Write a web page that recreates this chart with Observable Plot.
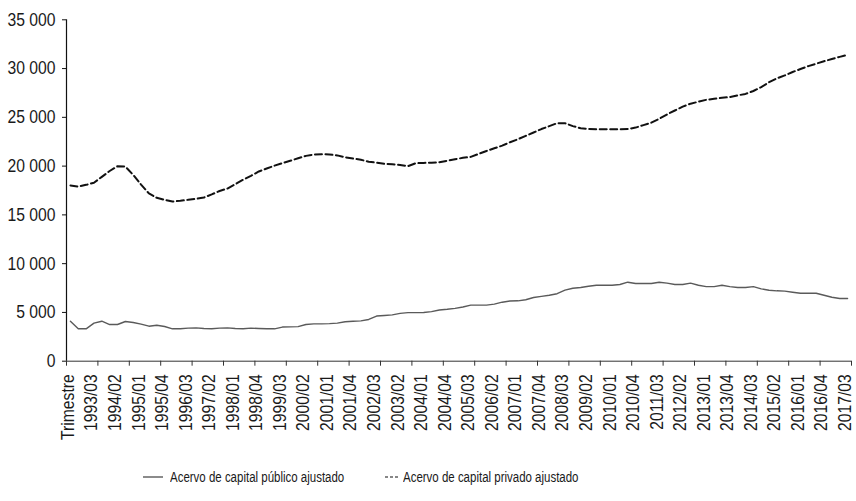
<!DOCTYPE html>
<html>
<head>
<meta charset="utf-8">
<script src="https://cdn.jsdelivr.net/npm/d3@7"></script>
<script src="https://cdn.jsdelivr.net/npm/@observablehq/plot@0.6"></script>
<style>
  html, body { margin: 0; padding: 0; background: #fff; }
  body { width: 856px; height: 501px; overflow: hidden;
         font-family: "Liberation Sans", Arial, sans-serif; }
  #legend { position: relative; height: 46px; font-size: 14px; color: #1a1a1a; }
  #legend .item { position: absolute; top: 14px; height: 16px; white-space: nowrap; }
  #legend svg { position: absolute; left: 0; top: 5px; }
  #legend span { position: absolute; top: 0; line-height: 16px; transform: scaleX(0.82); transform-origin: 0 50%; }
</style>
</head>
<body>
<div id="chart"></div>
<div id="legend"></div>
<script>
// Categories: first row "Trimestre", then quarters 1993/01 .. 2017/03
const categories = ["Trimestre"];
for (let y = 1993; y <= 2017; y++) {
  for (let q = 1; q <= 4; q++) {
    if (y === 2017 && q > 3) break;
    categories.push(y + "/0" + q);
  }
}

// Tick labels shown on the axis (every third category)
const tickLabels = ["Trimestre","1993/03","1994/02","1995/01","1995/04","1996/03","1997/02","1998/01","1998/04",
  "1999/03","2000/02","2001/01","2001/04","2002/03","2003/02","2004/01","2004/04","2005/03","2006/02",
  "2007/01","2007/04","2008/03","2009/02","2010/01","2010/04","2011/03","2012/02","2013/01","2013/04",
  "2014/03","2015/02","2016/01","2016/04","2017/03"];

const seriesNames = ["Acervo de capital público ajustado", "Acervo de capital privado ajustado"];

// Acervo de capital público ajustado
const publico = [4100,3320,3320,3900,4100,3760,3760,4070,3970,3800,
  3590,3690,3555,3320,3320,3390,3420,3350,3320,3390,
  3420,3350,3320,3390,3350,3320,3320,3500,3520,3540,
  3760,3830,3830,3850,3900,4050,4100,4130,4280,4630,
  4690,4750,4900,4980,4980,4990,5080,5250,5320,5420,
  5560,5750,5750,5750,5850,6050,6170,6190,6300,6530,
  6650,6760,6920,7280,7480,7560,7690,7790,7790,7790,
  7860,8100,7960,7960,7960,8100,8000,7860,7860,8000,
  7790,7650,7650,7790,7650,7550,7550,7650,7420,7280,
  7215,7180,7070,6970,6970,6970,6760,6560,6430,6430];

// Acervo de capital privado ajustado
const privado = [18010,17900,18080,18300,18900,19500,19990,19950,19100,18100,
  17200,16750,16540,16370,16450,16550,16650,16780,17100,17450,
  17700,18150,18600,19000,19450,19750,20050,20300,20550,20800,
  21050,21180,21220,21200,21100,20900,20780,20650,20450,20350,
  20230,20180,20120,20000,20300,20330,20340,20400,20550,20700,
  20850,20950,21250,21550,21830,22100,22450,22750,23100,23450,
  23800,24100,24400,24400,24100,23880,23800,23780,23780,23780,
  23780,23800,23950,24200,24450,24850,25300,25700,26100,26400,
  26600,26800,26900,27000,27080,27250,27400,27700,28100,28600,
  29000,29300,29650,29950,30250,30500,30750,30980,31200,31400];

const yTicks = [0, 5000, 10000, 15000, 20000, 25000, 30000, 35000];

const data = categories.map((c, i) => ({i, cat: c, publico: publico[i], privado: privado[i]}));
const labelIdx = tickLabels.map(l => categories.indexOf(l));
const boundaries = d3.range(0, categories.length + 1, 4).map(k => k - 0.5);
const fmt = d => d3.format(",")(d).replace(/,/g, " ");

const FONT = '"Liberation Sans", Arial, sans-serif';

const chart = Plot.plot({
  width: 856,
  height: 455,
  marginTop: 19.3,
  marginBottom: 94.3,
  marginLeft: 66,
  marginRight: 5,
  style: {fontFamily: FONT, fontSize: "18.5px", color: "#1a1a1a", background: "#fff", overflow: "visible"},
  x: {type: "linear", domain: [-0.5, categories.length - 0.5]},
  y: {domain: [0, 35000]},
  marks: [
    Plot.axisY({ticks: yTicks, tickSize: 4, tickPadding: 7, tickFormat: fmt, label: null, stroke: "#111"}),
    Plot.axisX({ticks: boundaries, tickSize: 5, tickFormat: () => "", label: null, stroke: "#333"}),
    Plot.axisX({ticks: labelIdx, tickSize: 0, tickPadding: 13, tickRotate: -90, dx: -2.5, tickFormat: i => categories[i], label: null}),
    Plot.ruleY([0], {stroke: "#333", strokeWidth: 1}),
    Plot.ruleX([-0.5], {stroke: "#111", strokeWidth: 1.2}),
    Plot.lineY(data, {x: "i", y: "publico", stroke: "#5a5a5a", strokeWidth: 1.4}),
    Plot.lineY(data, {x: "i", y: "privado", stroke: "#111", strokeWidth: 2, strokeDasharray: "7,3.5"})
  ]
});
document.getElementById("chart").appendChild(chart);

// Condense axis text horizontally (narrow font look), pivoting at each text's anchor
const S = 0.85;
chart.querySelectorAll("text").forEach(t => {
  const tr = t.getAttribute("transform") || "";
  const px = parseFloat(t.getAttribute("x") || 0) + parseFloat(t.getAttribute("dx") || 0);
  t.setAttribute("transform", `${tr} translate(${px},0) scale(${S},1) translate(${-px},0)`);
});

// Legend
const legend = document.getElementById("legend");
const items = [
  {name: seriesNames[0], left: 143, w: 20, gap: 27, stroke: "#5a5a5a", dash: null, sw: 1.4},
  {name: seriesNames[1], left: 385, w: 13, gap: 18, stroke: "#111", dash: "3,2", sw: 1.2}
];
items.forEach(it => {
  const div = document.createElement("div");
  div.className = "item";
  div.style.left = it.left + "px";
  div.innerHTML = `<svg width="${it.w}" height="6"><line x1="0" x2="${it.w}" y1="3" y2="3" stroke="${it.stroke}" stroke-width="${it.sw}" ${it.dash ? `stroke-dasharray="${it.dash}"` : ""}/></svg><span style="left:${it.gap}px">${it.name}</span>`;
  legend.appendChild(div);
});
</script>
</body>
</html>
